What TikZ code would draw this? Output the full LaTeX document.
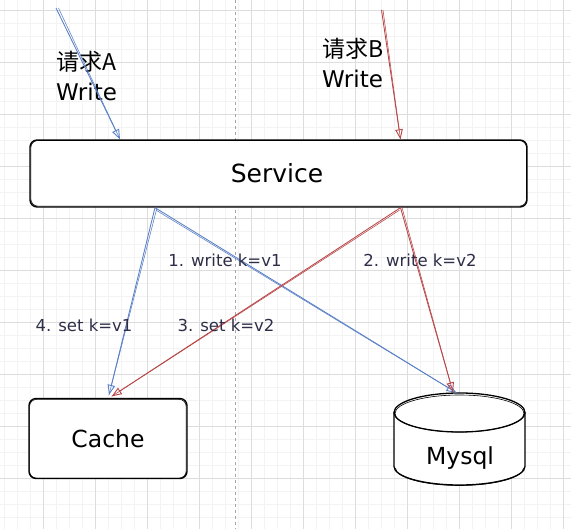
\documentclass[tikz,border=0pt]{standalone}
\usepackage{fontspec}
\setmainfont{DejaVu Sans}
\newfontfamily\cjk{Noto Sans CJK SC}
\usetikzlibrary{arrows.meta}
\definecolor{gmaj}{HTML}{DDDDDD}
\definecolor{gmin}{HTML}{F3F3F3}
\definecolor{arrblue}{HTML}{5A80C6}
\definecolor{arrred}{HTML}{B84648}
\definecolor{labtxt}{HTML}{2E2E48}
\tikzset{
  box/.style={draw=black, line width=1.3pt, rounded corners=7pt, fill=white, inner sep=0pt},
  boxtwo/.style={draw=black, line width=0.6pt, rounded corners=7pt},
  maintxt/.style={font=\fontsize{23.5}{28}\selectfont, text=black},
  reqtxt/.style={font=\cjk\fontsize{23}{30}\selectfont, text=black, align=left, anchor=west, inner sep=0pt},
  labt/.style={font=\fontsize{16.5}{19}\selectfont, text=labtxt, inner sep=0pt},
  ablue/.style={draw=arrblue, line width=0.85pt},
  ared/.style={draw=arrred, line width=0.85pt},
  tip/.style={-{Triangle[open,length=10pt,width=7.5pt,line width=0.9pt]}},
}
\newcommand\skarrow[4]{%
  \draw[#1,tip] (#2) -- (#3);
  \draw[#1,line width=0.55pt] ([shift={(#4)}]#2) -- (#3);}
\begin{document}
\begin{tikzpicture}[x=1pt,y=-1pt]
\useasboundingbox (0,0) rectangle (571,529);
\begin{scope}
\clip (0,0) rectangle (571,529);
\fill[white] (0,0) rectangle (571,529);
% minor grid
\foreach \i in {0,...,44} {
  \draw[gmin, line width=0.8pt] ({4.3+13*\i},0) -- ({4.3+13*\i},529);
}
\foreach \j in {0,...,41} {
  \draw[gmin, line width=0.8pt] (0,{10.3+13*\j}) -- (571,{10.3+13*\j});
}
% major grid
\foreach \i in {0,...,10} {
  \draw[gmaj, line width=0.8pt] ({43.3+52*\i},0) -- ({43.3+52*\i},529);
}
\foreach \j in {0,...,10} {
  \draw[gmaj, line width=0.8pt] (0,{10.3+52*\j}) -- (571,{10.3+52*\j});
}
% dashed divider
\draw[gray!70, line width=0.6pt, dash pattern=on 3pt off 3pt] (235.3,0) -- (235.3,529);
\end{scope}

% nodes
\node[box, minimum width=497pt, minimum height=67pt] (svc) at (278.5,173.5) {};
\draw[boxtwo] ([shift={(1.5,1.2)}]svc.north west) rectangle ([shift={(-1.2,-1.5)}]svc.south east);
\node[maintxt, font=\fontsize{25}{28}\selectfont] (svct) at (277,173) {Service};

\node[box, minimum width=158pt, minimum height=80pt] (cache) at (108,438.5) {};
\draw[boxtwo] ([shift={(1.2,1.5)}]cache.north west) rectangle ([shift={(-1.5,-1.0)}]cache.south east);
\node[maintxt] (cachet) at (108,439) {Cache};

\node[minimum width=131pt, minimum height=92pt, inner sep=0pt] (db) at (459.5,439) {};
\filldraw[fill=white, draw=black, line width=1.3pt]
  (394,412.5) -- (394,466.5) arc[start angle=180, end angle=360, x radius=65.5pt, y radius=18.5pt]
  -- (525,412.5);
\fill[white] (459.5,412.5) ellipse[x radius=65.5pt, y radius=19.5pt];
\draw[black, line width=1.3pt] (459.5,412.5) ellipse[x radius=65.5pt, y radius=19.5pt];
\draw[black, line width=0.6pt] (459.5,413.5) ellipse[x radius=64.5pt, y radius=18.5pt];
\draw[black, line width=0.6pt] (395.5,468) arc[start angle=180, end angle=360, x radius=64pt, y radius=17.5pt];
\node[maintxt] (dbt) at (460,458) {Mysql};

% request labels
\node[reqtxt] (reqa) at (56,76.5) {请求A\\{\fontspec{DejaVu Sans}Write}};
\node[reqtxt] (reqb) at (322,63.5) {请求B\\{\fontspec{DejaVu Sans}Write}};

% connector endpoints
\coordinate (ina) at (56,8);
\coordinate (inb) at (381.5,10);
\coordinate (sa) at ([xshift=-123.5pt]svc.south);
\coordinate (sb) at ([xshift=122pt]svc.south);
\coordinate (ta) at ([xshift=-158.5pt]svc.north);
\coordinate (tb) at ([xshift=122pt]svc.north);
\coordinate (ca) at ([xshift=1pt,yshift=3pt]cache.north);
\coordinate (cb) at ([xshift=3.7pt,yshift=1.5pt]cache.north);
\coordinate (da) at ([xshift=-3pt]db.north);
\coordinate (db2) at ([xshift=-6.5pt,yshift=0.5pt]db.north);

% arrows
\skarrow{ablue}{ina}{ta}{2.5,0}
\skarrow{ared}{inb}{tb}{1.5,0}
\skarrow{ablue}{sa}{ca}{2,0}
\skarrow{ablue}{sa}{da}{1,2.5}
\skarrow{ared}{sb}{cb}{-1,2.5}
\skarrow{ared}{sb}{db2}{1.5,0}

% arrow labels
\node[labt] (l1) at (225,260) {1. write k=v1};
\node[labt] (l2) at (420,260) {2. write k=v2};
\node[labt] (l4) at (84,325) {4. set k=v1};
\node[labt] (l3) at (226,325) {3. set k=v2};
\end{tikzpicture}
\end{document}
